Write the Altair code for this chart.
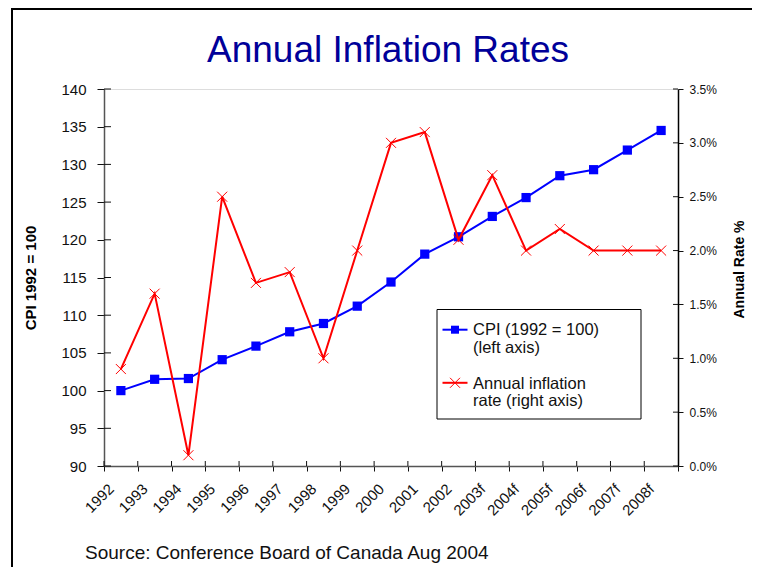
import altair as alt
import pandas as pd

# ---- data ----
years = ["1992", "1993", "1994", "1995", "1996", "1997", "1998", "1999", "2000",
         "2001", "2002", "2003f", "2004f", "2005f", "2006f", "2007f", "2008f"]
cpi = [100.0, 101.5, 101.6, 104.1, 105.9, 107.8, 108.9, 111.2, 114.4,
       118.1, 120.4, 123.1, 125.6, 128.5, 129.3, 131.9, 134.5]
rate = [0.9, 1.6, 0.1, 2.5, 1.7, 1.8, 1.0, 2.0, 3.0,
        3.1, 2.1, 2.7, 2.0, 2.2, 2.0, 2.0, 2.0]
cpi_ticks = [90, 95, 100, 105, 110, 115, 120, 125, 130, 135, 140]
rate_ticks = [0.0, 0.5, 1.0, 1.5, 2.0, 2.5, 3.0, 3.5]
title_text = "Annual Inflation Rates"
left_title = "CPI  1992 = 100"
right_title = "Annual Rate %"
legend_cpi = "CPI (1992 = 100)\n(left axis)"
legend_rate = "Annual inflation\nrate (right axis)"
source_text = "Source:  Conference Board of Canada Aug 2004"

W, H = 574, 377
BLUE = "#0000FF"
RED = "#FF0000"
FONT = "Liberation Sans"
XSHAPE = "M-1,-1L1,1M-1,1L1,-1"

df = pd.DataFrame({"year": years, "cpi": cpi, "rate": rate})
one = pd.DataFrame({"k": [0]})

xscale = alt.Scale(type="band", paddingInner=0, paddingOuter=0)
x_axis = alt.Axis(labelAngle=-45, labelAlign="right", labelBaseline="middle",
                  labelOffset=-10, labelPadding=15, tickSize=5, tickBand="extent",
                  labelFontSize=15, labelColor="#111", domainColor="#555",
                  domainWidth=1.5, tickColor="#111", labelFont=FONT)
x_enc = alt.X("year:O", sort=years, scale=xscale, title=None, axis=x_axis)
x_edge = alt.X("year:O", sort=years, scale=xscale, title=None, axis=x_axis,
               bandPosition=0)

cpi_scale = alt.Scale(domain=[90, 140], nice=False, zero=False)
rate_scale = alt.Scale(domain=[0, 3.5], nice=False)

cpi_axis = alt.Axis(orient="left", values=cpi_ticks, tickSize=7, labelPadding=11,
                    labelFontSize=15, labelColor="#111", grid=False, labelFont=FONT,
                    domainColor="#555", domainWidth=1.5, tickColor="#111",
                    titleFontSize=15, titleFontWeight="bold", titleColor="#000",
                    titleFont=FONT, titleAngle=270, titleX=-74, titleY=H / 2,
                    titleAlign="center", titleBaseline="middle")
rate_axis = alt.Axis(orient="right", values=rate_ticks, tickSize=5, labelPadding=6,
                     labelExpr="format(datum.value, '.1f') + '%'",
                     labelFontSize=12, labelColor="#111", grid=False, labelFont=FONT,
                     domainColor="#000", domainWidth=1.5, tickColor="#111",
                     titleFontSize=14, titleFontWeight="bold", titleColor="#000",
                     titleFont=FONT, titleAngle=270, titleX=61, titleY=180,
                     titleAlign="center", titleBaseline="middle")

cpi_y = alt.Y("cpi:Q", scale=cpi_scale, title=left_title, axis=cpi_axis)
rate_y = alt.Y("rate:Q", scale=rate_scale, title=right_title, axis=rate_axis)

base = alt.Chart(df)

cpi_line = base.mark_line(color=BLUE, strokeWidth=2).encode(x=x_enc, y=cpi_y)
cpi_pts = base.mark_square(color=BLUE, size=85, opacity=1).encode(x=x_enc, y=cpi_y)
cpi_inner = alt.Chart(pd.DataFrame({"cpi": cpi_ticks})).mark_rule(
    color="#111", strokeWidth=1).encode(y=cpi_y, x=alt.value(0), x2=alt.value(7))
x_inner = alt.Chart(pd.DataFrame({"year": years})).mark_rule(
    color="#111", strokeWidth=1).encode(x=x_edge, y=alt.value(H - 5), y2=alt.value(H))

rate_line = base.mark_line(color=RED, strokeWidth=2).encode(x=x_enc, y=rate_y)
rate_pts = base.mark_point(shape=XSHAPE, color=RED, size=100, filled=False,
                           strokeWidth=1, opacity=1).encode(x=x_enc, y=rate_y)
rate_inner = alt.Chart(pd.DataFrame({"rate": rate_ticks})).mark_rule(
    color="#111", strokeWidth=1).encode(y=rate_y, x=alt.value(W - 5), x2=alt.value(W))

left_layer = alt.layer(cpi_line, cpi_pts, cpi_inner, x_inner)
right_layer = alt.layer(rate_line, rate_pts, rate_inner)

# frame around the slide
frame_left = alt.Chart(one).mark_rule(color="#000", strokeWidth=2).encode(
    x=alt.value(-92), y=alt.value(-81), y2=alt.value(H + 110))
frame_top = alt.Chart(one).mark_rule(color="#000", strokeWidth=2).encode(
    x=alt.value(-93), x2=alt.value(W + 74), y=alt.value(-80))

# title
title_mark = alt.Chart(pd.DataFrame({"t": [title_text]})).mark_text(
    align="center", baseline="alphabetic", fontSize=37, font=FONT,
    color="#000099").encode(text="t:N", x=alt.value(W / 2 - 3), y=alt.value(-27))

# manual legend
leg_box = alt.Chart(one).mark_rect(fill="white", stroke="#000", strokeWidth=1).encode(
    x=alt.value(333), x2=alt.value(537), y=alt.value(220.5), y2=alt.value(330))
leg_cpi_line = alt.Chart(one).mark_rule(color=BLUE, strokeWidth=2).encode(
    x=alt.value(338.5), x2=alt.value(363.5), y=alt.value(240.7))
leg_cpi_pt = alt.Chart(one).mark_square(color=BLUE, size=64, opacity=1).encode(
    x=alt.value(351), y=alt.value(240.7))
leg_rate_line = alt.Chart(one).mark_rule(color=RED, strokeWidth=2).encode(
    x=alt.value(338.5), x2=alt.value(363.5), y=alt.value(293.8))
leg_rate_pt = alt.Chart(one).mark_point(shape=XSHAPE, color=RED, size=100,
                                        filled=False, strokeWidth=1, opacity=1).encode(
    x=alt.value(351), y=alt.value(293.8))
leg_text = alt.Chart(pd.DataFrame({"t": [legend_cpi, legend_rate],
                                   "yy": [246.4, 299.5]})).mark_text(
    align="left", baseline="alphabetic", fontSize=16.5, font=FONT, color="#111",
    lineBreak="\n", lineHeight=17.6).encode(
    text="t:N", x=alt.value(369), y=alt.Y("yy:Q", scale=None))

src = alt.Chart(pd.DataFrame({"t": [source_text]})).mark_text(
    align="left", baseline="alphabetic", fontSize=19, font=FONT, color="#111").encode(
    text="t:N", x=alt.value(-19), y=alt.value(470))

chart = alt.layer(
    left_layer, right_layer,
    frame_left, frame_top, title_mark,
    leg_box, leg_cpi_line, leg_cpi_pt, leg_rate_line, leg_rate_pt, leg_text,
    src,
).resolve_scale(y="independent").properties(
    width=W, height=H,
    autosize=alt.AutoSizeParams(type="none"),
    padding={"left": 96, "top": 81, "right": 75, "bottom": 101},
).configure_view(stroke=None).configure(font=FONT, background="white")

chart.save("out.html", embed_options={"renderer": "svg", "actions": False})
